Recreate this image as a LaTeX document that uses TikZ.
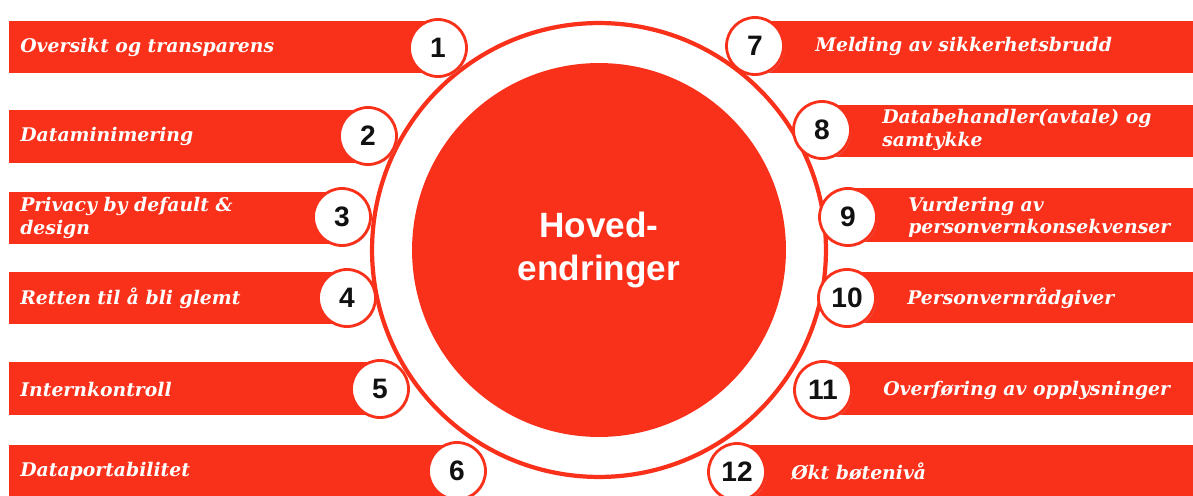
\documentclass[tikz,border=0pt]{standalone}
\usepackage{fontspec}
\setmainfont{DejaVu Serif}
\setsansfont{Liberation Sans}
\usepackage{tikz}
\usetikzlibrary{positioning,shadows}
\definecolor{GdprRed}{HTML}{F9311B}
\definecolor{GdprInk}{HTML}{111111}
\definecolor{GdprShade}{HTML}{B9B9B9}
\tikzset{
  barfill/.style={fill=GdprRed},
  barlabel/.style={font=\rmfamily\bfseries\itshape\fontsize{10.7}{12.6}\selectfont, text=white, align=left, inner sep=0pt},
  numdisc/.style={circle, draw=GdprRed, line width=1.6pt, fill=white, minimum size=1.14cm, inner sep=0pt,
    font=\sffamily\bfseries\fontsize{16}{16}\selectfont, text=GdprInk,
    drop shadow={shadow xshift=0.6pt, shadow yshift=-0.8pt, fill=GdprShade, opacity=0.6}},
  ringdisc/.style={circle, draw=GdprRed, line width=2.4pt, fill=white, minimum size=9.08cm, inner sep=0pt},
  hubdisc/.style={circle, fill=GdprRed, minimum size=7.48cm, inner sep=0pt, align=center,
    font=\sffamily\bfseries\fontsize{20}{24}\selectfont, text=white}
}
\begin{document}
\begin{tikzpicture}[x=0.02cm, y=-0.02cm]
\useasboundingbox (0,0) rectangle (1193,496);
% bars, left side
\fill[barfill] (9,21) rectangle (438,73);
\fill[barfill] (9,110) rectangle (368,163);
\fill[barfill] (9,192) rectangle (342,244);
\fill[barfill] (9,272) rectangle (347,324);
\fill[barfill] (9,362) rectangle (380,415);
\fill[barfill] (9,445) rectangle (457,496);
% bars, right side
\fill[barfill] (755,21) rectangle (1193,73);
\fill[barfill] (822,105) rectangle (1193,157);
\fill[barfill] (848,188) rectangle (1193,242);
\fill[barfill] (847,272) rectangle (1193,323);
\fill[barfill] (823,362) rectangle (1193,415);
\fill[barfill] (737,445) rectangle (1193,496);
% centre
\node[ringdisc] (ring) at (599,250) {};
\node[hubdisc] (hub) at (599,250) {Hoved-\\endringer};
% numbered discs
\node[numdisc] (n1) at (438,48) {1};
\node[numdisc] (n2) at (368,136) {2};
\node[numdisc] (n3) at (342,217) {3};
\node[numdisc] (n4) at (347,298) {4};
\node[numdisc] (n5) at (380,389) {5};
\node[numdisc] (n6) at (457,471) {6};
\node[numdisc] (n7) at (755,46) {7};
\node[numdisc] (n8) at (822,130) {8};
\node[numdisc] (n9) at (848,217) {9};
\node[numdisc] (n10) at (847,298) {10};
\node[numdisc] (n11) at (823,390) {11};
\node[numdisc] (n12) at (737,472) {12};
% labels
\node[barlabel, anchor=west] (t1) at (20,47) {Oversikt og transparens};
\node[barlabel, anchor=west] (t2) at (20,136) {Dataminimering};
\node[barlabel, anchor=west] (t3) at (20,218) {Privacy by default \&\\design};
\node[barlabel, anchor=west] (t4) at (20,298) {Retten til å bli glemt};
\node[barlabel, anchor=west] (t5) at (20,389) {Internkontroll};
\node[barlabel, anchor=west] (t6) at (20,471) {Dataportabilitet};
\node[barlabel, right=0.6cm of n7] (t7) {Melding av sikkerhetsbrudd};
\node[barlabel, right=0.6cm of n8] (t8) {Databehandler(avtale) og\\samtykke};
\node[barlabel, right=0.6cm of n9] (t9) {Vurdering av\\personvernkonsekvenser};
\node[barlabel, right=0.6cm of n10] (t10) {Personvernrådgiver};
\node[barlabel, right=0.6cm of n11] (t11) {Overføring av opplysninger};
\node[barlabel, right=0.48cm of n12] (t12) {Økt bøtenivå};
\end{tikzpicture}
\end{document}
